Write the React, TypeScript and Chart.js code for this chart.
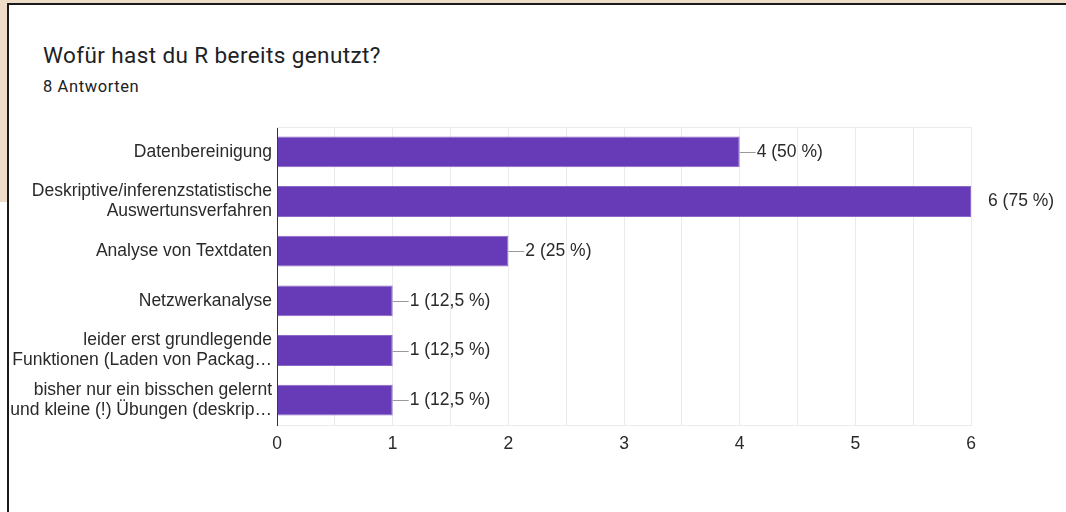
import React, { useEffect, useRef } from "react";
import { Chart, registerables } from "chart.js";

Chart.register(...registerables);

const titleText = "Wofür hast du R bereits genutzt?";
const subtitleText = "8 Antworten";

const categories: (string | string[])[] = [
  "Datenbereinigung",
  ["Deskriptive/inferenzstatistische", "Auswertunsverfahren"],
  "Analyse von Textdaten",
  "Netzwerkanalyse",
  ["leider erst grundlegende", "Funktionen (Laden von Packag…"],
  ["bisher nur ein bisschen gelernt", "und kleine (!) Übungen (deskrip…"],
];
const counts = [4, 6, 2, 1, 1, 1];
const percentLabels = ["50 %", "75 %", "25 %", "12,5 %", "12,5 %", "12,5 %"];
const xTickLabels = ["0", "1", "2", "3", "4", "5", "6"];

const FONT = "'Liberation Sans', Arial, sans-serif";

const annotationPlugin = {
  id: "annotations",
  beforeDatasetsDraw(chart: any) {
    const { ctx, chartArea } = chart;
    ctx.save();
    ctx.strokeStyle = "#ebebeb";
    ctx.lineWidth = 1;
    ctx.beginPath();
    ctx.moveTo(chartArea.left, Math.round(chartArea.top) + 0.5);
    ctx.lineTo(chartArea.right, Math.round(chartArea.top) + 0.5);
    ctx.stroke();
    ctx.restore();
  },
  afterDatasetsDraw(chart: any) {
    const { ctx, chartArea } = chart;
    const meta = chart.getDatasetMeta(0);
    ctx.save();
    meta.data.forEach((el: any, i: number) => {
      const x = el.x;
      const y = Math.round(el.y) + 0.5;
      const lineEnd = Math.min(x + 16, chartArea.right);
      if (lineEnd > x + 1) {
        ctx.strokeStyle = "#999999";
        ctx.lineWidth = 1;
        ctx.beginPath();
        ctx.moveTo(x, y);
        ctx.lineTo(lineEnd, y);
        ctx.stroke();
      }
      ctx.fillStyle = "#2a2a2a";
      ctx.font = `17.5px ${FONT}`;
      ctx.textBaseline = "middle";
      ctx.textAlign = "left";
      ctx.fillText(`${counts[i]} (${percentLabels[i]})`, x + 17, el.y);
    });
    ctx.restore();
  },
};

function BarChart() {
  const ref = useRef<HTMLCanvasElement | null>(null);
  useEffect(() => {
    if (!ref.current) return;
    const chart = new Chart(ref.current, {
      type: "bar",
      data: {
        labels: categories,
        datasets: [
          {
            data: counts,
            backgroundColor: "#673ab7",
            borderColor: "#8a68c8",
            borderWidth: 1,
            barPercentage: 0.62,
            categoryPercentage: 1,
          },
        ],
      },
      options: {
        indexAxis: "y",
        animation: false,
        responsive: false,
        maintainAspectRatio: false,
        layout: { padding: { top: 127, right: 95, bottom: 47, left: 0 } },
        plugins: {
          legend: { display: false },
          tooltip: { enabled: false },
          title: { display: false },
        },
        scales: {
          x: {
            type: "linear",
            min: 0,
            max: 6,
            ticks: {
              stepSize: 0.5,
              autoSkip: false,
              color: "#2a2a2a",
              font: { family: FONT, size: 17.5 },
              padding: 9,
              callback: (v: any) =>
                Number.isInteger(v) ? xTickLabels[v] : "",
            },
            grid: {
              color: "#ebebeb",
              drawTicks: false,
            },
            border: { display: true, color: "#ebebeb" },
            afterFit: (s: any) => {
              s.height = 40;
            },
          },
          y: {
            type: "category",
            ticks: {
              color: "#2a2a2a",
              font: { family: FONT, size: 17.5, lineHeight: 1.15 },
              padding: 5,
              autoSkip: false,
            },
            grid: { drawOnChartArea: false, drawTicks: false },
            border: { display: true, color: "#333333", width: 1 },
            afterFit: (s: any) => {
              s.width = 277;
            },
          },
        },
      },
      plugins: [annotationPlugin],
    });
    return () => chart.destroy();
  }, []);
  return (
    <canvas
      ref={ref}
      width={1066}
      height={512}
      style={{ position: "absolute", left: 0, top: 0, width: 1066, height: 512 }}
    />
  );
}

export default function App() {
  return (
    <div
      style={{
        position: "absolute",
        left: 0,
        top: 0,
        width: 1066,
        height: 512,
        background: "#ffffff",
        overflow: "hidden",
      }}
    >
      <div style={{ position: "absolute", left: 0, top: 0, width: 1066, height: 3, background: "#ecdcc8" }} />
      <div style={{ position: "absolute", left: 0, top: 0, width: 7, height: 202, background: "#ecdcc8" }} />
      <div style={{ position: "absolute", left: 7, top: 3, width: 1059, height: 2, background: "#1a1a1a" }} />
      <div style={{ position: "absolute", left: 7, top: 3, width: 2, height: 509, background: "#1a1a1a" }} />
      <div
        style={{
          position: "absolute",
          left: 43,
          top: 40,
          fontFamily: "Roboto, sans-serif",
          fontSize: 22.5,
          letterSpacing: 0.4,
          color: "#202124",
          lineHeight: "30px",
          whiteSpace: "nowrap",
        }}
      >
        {titleText}
      </div>
      <div
        style={{
          position: "absolute",
          left: 43,
          top: 76,
          fontFamily: "Roboto, sans-serif",
          fontSize: 16.5,
          letterSpacing: 0.6,
          color: "#202124",
          lineHeight: "22px",
          whiteSpace: "nowrap",
        }}
      >
        {subtitleText}
      </div>
      <BarChart />
    </div>
  );
}
